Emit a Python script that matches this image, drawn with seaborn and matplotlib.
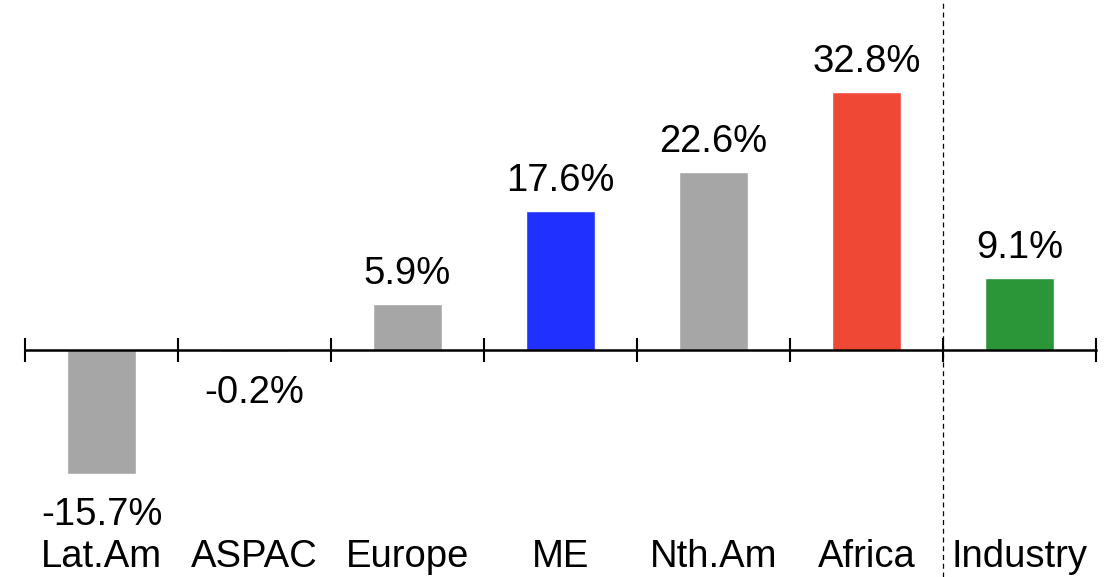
import matplotlib
matplotlib.use("Agg")
import matplotlib.pyplot as plt
import matplotlib.transforms as mtransforms
import seaborn as sns
import pandas as pd

# Growth by region, with the industry total on the right
regions = ["Lat.Am", "ASPAC", "Europe", "ME", "Nth.Am", "Africa", "Industry"]
growth = [-15.7, -0.2, 5.9, 17.6, 22.6, 32.8, 9.1]
colors = ["#a6a6a6", "#a6a6a6", "#a6a6a6", "#1f30ff", "#a6a6a6", "#ef4835", "#2a9638"]

df = pd.DataFrame({"region": regions, "growth": growth})

sns.set_theme(style="white")
plt.rcParams["font.family"] = ["Liberation Sans", "DejaVu Sans"]

fig = plt.figure(figsize=(11.07, 5.77), dpi=100)
ax = fig.add_axes([0, 0, 1, 1])

sns.barplot(data=df, x="region", y="growth", hue="region", order=regions,
            palette=dict(zip(regions, colors)), width=0.45, legend=False,
            saturation=1, ax=ax)

ax.set_xlim(-0.6634, 6.572)
ax.set_ylim(-28.84, 44.47)

# Zero baseline drawn as the bottom spine, with ticks between categories
for side in ["top", "right", "left"]:
    ax.spines[side].set_visible(False)
ax.spines["bottom"].set_position(("data", 0))
ax.spines["bottom"].set_bounds(-0.5, len(regions) - 0.5)
ax.spines["bottom"].set_color("black")
ax.spines["bottom"].set_linewidth(1.8)
ax.spines["bottom"].set_zorder(1)
ax.set_xticks([i - 0.5 for i in range(len(regions) + 1)])
ax.set_xticklabels([])
ax.tick_params(axis="x", direction="inout", length=17, width=1.5, color="black", bottom=True)
ax.set_yticks([])
ax.set_xlabel("")
ax.set_ylabel("")

# Separator between regions and the industry total
ax.axvline(5.5, color="black", lw=0.9, ls=(0, (4, 3)), zorder=0)

# Value labels
for i, v in enumerate(growth):
    off = 14.4 if v >= 0 else -37
    ax.annotate(f"{v:.1f}%", xy=(i, v), xytext=(0, off), textcoords="offset points",
                ha="center", va="baseline", fontsize=27.5, color="black")

# Category labels along the bottom edge
trans = mtransforms.blended_transform_factory(ax.transData, ax.transAxes)
for i, name in enumerate(regions):
    ax.text(i, 0.034, name, transform=trans, ha="center", va="center",
            fontsize=27.5, color="black")

fig.savefig("out.png", dpi=100)
